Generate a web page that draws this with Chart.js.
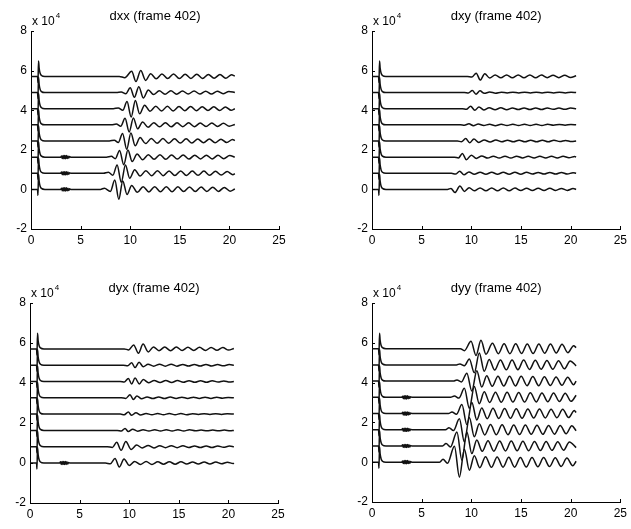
<!DOCTYPE html>
<html>
<head>
<meta charset="utf-8">
<script src="https://cdn.jsdelivr.net/npm/chart.js@4.4.1/dist/chart.umd.min.js"></script>
<style>
  body { margin: 0; background: #fff; }
  .panel { position: absolute; }
</style>
</head>
<body>
<div class="panel" style="left:0px;top:0px"><canvas id="c0" width="315" height="262"></canvas></div>
<div class="panel" style="left:315px;top:0px"><canvas id="c1" width="316" height="262"></canvas></div>
<div class="panel" style="left:0px;top:262px"><canvas id="c2" width="315" height="267"></canvas></div>
<div class="panel" style="left:315px;top:262px"><canvas id="c3" width="316" height="267"></canvas></div>
<script>
// values are in units of 1e4, traces listed bottom to top
const titles = ['dxx (frame 402)', 'dxy (frame 402)', 'dyx (frame 402)', 'dyy (frame 402)'];
const xTickValues = [0, 5, 10, 15, 20, 25];
const yTickValues = [-2, 0, 2, 4, 6, 8];
const baselines = [0, 0.815, 1.63, 2.445, 3.26, 4.075, 4.89, 5.705];

// first arrival spike, same on every trace (relative to baseline)
const spikePts = [[0,0],[0.66,0],[0.7,-0.3],[0.76,0.78],[0.82,0.42],[0.92,0.16],[1.05,0.05],[1.4,0]];
// small noisy burst near x=3.5 on the lower traces
const blobPts = [[3.0,0],[3.08,0.06],[3.16,-0.07],[3.24,0.08],[3.32,-0.08],[3.4,0.08],[3.48,-0.08],[3.56,0.08],[3.64,-0.07],[3.72,0.06],[3.8,-0.05],[3.9,0.03],[4.0,0]];

const dxxBlob = [0, 1, 2];
const dxyBlob = [];
const dyxBlob = [0];
const dyyBlob = [0, 1, 2, 3, 4];

const dxxTraces = [
  [[7.0,0],[7.4,0.06],[8.0,-0.1],[8.45,0.47],[8.85,-0.5],[9.25,0.43],[9.68,-0.26],[10.15,0.2],[10.72,-0.15],[11.3,0.14],[11.88,-0.13],[12.47,0.14],[13.05,-0.12],[13.64,0.13],[14.22,-0.12],[14.81,0.13],[15.39,-0.11],[15.98,0.12],[16.56,-0.11],[17.15,0.12],[17.73,-0.1],[18.32,0.11],[18.9,-0.1],[19.49,0.1],[20.07,-0.09],[20.55,0.02]],
  [[7.3,0],[7.8,0.05],[8.25,-0.1],[8.68,0.42],[9.1,-0.45],[9.52,0.42],[9.95,-0.25],[10.45,0.18],[11.0,-0.14],[11.58,0.13],[12.16,-0.12],[12.75,0.13],[13.33,-0.12],[13.92,0.12],[14.5,-0.11],[15.09,0.12],[15.67,-0.11],[16.26,0.11],[16.84,-0.1],[17.43,0.11],[18.01,-0.1],[18.6,0.1],[19.18,-0.09],[19.77,0.09],[20.35,-0.07],[20.55,-0.02]],
  [[7.6,0],[8.1,0.04],[8.5,-0.08],[8.93,0.34],[9.35,-0.38],[9.77,0.36],[10.2,-0.22],[10.7,0.16],[11.25,-0.13],[11.83,0.12],[12.41,-0.11],[13.0,0.12],[13.58,-0.11],[14.17,0.11],[14.75,-0.1],[15.34,0.11],[15.92,-0.1],[16.51,0.1],[17.09,-0.09],[17.68,0.1],[18.26,-0.09],[18.85,0.09],[19.43,-0.08],[20.02,0.08],[20.55,0]],
  [[7.9,0],[8.4,0.04],[8.8,-0.08],[9.23,0.38],[9.65,-0.42],[10.07,0.4],[10.5,-0.24],[11.0,0.17],[11.55,-0.13],[12.13,0.12],[12.71,-0.11],[13.3,0.12],[13.88,-0.11],[14.47,0.11],[15.05,-0.1],[15.64,0.11],[16.22,-0.1],[16.81,0.1],[17.39,-0.09],[17.98,0.1],[18.56,-0.09],[19.15,0.09],[19.73,-0.08],[20.32,0.08],[20.55,0.02]],
  [[8.1,0],[8.6,0.04],[9.05,-0.07],[9.48,0.33],[9.9,-0.36],[10.32,0.35],[10.75,-0.2],[11.25,0.15],[11.8,-0.12],[12.38,0.11],[12.96,-0.1],[13.55,0.11],[14.13,-0.1],[14.72,0.1],[15.3,-0.09],[15.89,0.1],[16.47,-0.09],[17.06,0.09],[17.64,-0.08],[18.23,0.09],[18.81,-0.08],[19.4,0.08],[19.98,-0.07],[20.55,0.02]],
  [[8.3,0],[8.8,0.04],[9.25,-0.08],[9.68,0.36],[10.1,-0.42],[10.52,0.42],[10.95,-0.26],[11.45,0.18],[12.0,-0.13],[12.58,0.12],[13.16,-0.11],[13.75,0.12],[14.33,-0.11],[14.92,0.11],[15.5,-0.1],[16.09,0.11],[16.67,-0.1],[17.26,0.1],[17.84,-0.09],[18.43,0.1],[19.01,-0.09],[19.6,0.09],[20.18,-0.08],[20.55,0]],
  [[8.6,0],[9.1,0.03],[9.55,-0.06],[10.0,0.24],[10.42,-0.24],[10.87,0.3],[11.32,-0.27],[11.83,0.13],[12.35,-0.1],[12.93,0.09],[13.51,-0.08],[14.1,0.09],[14.68,-0.08],[15.27,0.08],[15.85,-0.07],[16.44,0.08],[17.02,-0.07],[17.61,0.07],[18.19,-0.07],[18.78,0.07],[19.36,-0.06],[19.95,0.06],[20.55,0]],
  [[8.9,0],[9.46,-0.06],[10.15,0.26],[10.58,-0.26],[11.06,0.3],[11.56,-0.2],[12.06,0.14],[12.62,-0.12],[13.2,0.12],[13.78,-0.11],[14.37,0.12],[14.95,-0.11],[15.54,0.11],[16.12,-0.1],[16.71,0.11],[17.29,-0.1],[17.88,0.1],[18.46,-0.09],[19.05,0.1],[19.63,-0.09],[20.22,0.08],[20.55,0.02]]
];

const dxyTraces = [
  [[7.6,0],[7.95,0.05],[8.35,-0.16],[8.85,0.17],[9.3,-0.1],[9.78,0.08],[10.3,-0.07],[10.88,0.07],[11.47,-0.07],[12.05,0.07],[12.64,-0.07],[13.22,0.07],[13.81,-0.07],[14.39,0.07],[14.98,-0.06],[15.56,0.06],[16.15,-0.06],[16.73,0.06],[17.32,-0.06],[17.9,0.06],[18.49,-0.05],[19.07,0.05],[19.66,-0.05],[20.24,0.04],[20.55,0]],
  [[8.0,0],[8.4,-0.04],[8.83,0.1],[9.26,-0.08],[9.76,0.07],[10.3,-0.05],[10.88,0.05],[11.47,-0.05],[12.05,0.05],[12.64,-0.05],[13.22,0.05],[13.81,-0.05],[14.39,0.05],[14.98,-0.05],[15.56,0.05],[16.15,-0.04],[16.73,0.04],[17.32,-0.04],[17.9,0.04],[18.49,-0.04],[19.07,0.04],[19.66,-0.04],[20.24,0.03],[20.55,0]],
  [[8.3,0],[8.7,-0.04],[9.1,0.18],[9.5,-0.13],[10.0,0.1],[10.5,-0.07],[11.05,0.06],[11.64,-0.05],[12.22,0.05],[12.81,-0.05],[13.39,0.05],[13.98,-0.05],[14.56,0.05],[15.15,-0.04],[15.73,0.04],[16.32,-0.04],[16.9,0.04],[17.49,-0.04],[18.07,0.04],[18.66,-0.04],[19.24,0.04],[19.83,-0.03],[20.41,0.03],[20.55,0]],
  [[8.6,0],[9.0,-0.04],[9.43,0.12],[9.83,-0.09],[10.26,0.1],[10.75,-0.07],[11.3,0.05],[11.89,-0.05],[12.47,0.05],[13.06,-0.04],[13.64,0.04],[14.23,-0.04],[14.81,0.04],[15.4,-0.04],[15.98,0.04],[16.57,-0.04],[17.15,0.04],[17.74,-0.04],[18.32,0.04],[18.91,-0.03],[19.49,0.03],[20.08,-0.03],[20.55,0]],
  [[8.9,0],[9.3,-0.02],[9.76,0.05],[10.2,-0.04],[10.7,0.04],[11.25,-0.03],[11.84,0.03],[12.42,-0.04],[13.01,0.03],[13.59,-0.03],[14.18,0.03],[14.76,-0.03],[15.35,0.03],[15.93,-0.03],[16.52,0.03],[17.1,-0.03],[17.69,0.03],[18.27,-0.02],[18.86,0.02],[19.44,-0.02],[20.03,0.02],[20.55,0]],
  [[9.1,0],[9.5,-0.03],[9.93,0.13],[10.35,-0.08],[10.77,0.09],[11.25,-0.06],[11.8,0.05],[12.39,-0.05],[12.97,0.05],[13.56,-0.05],[14.14,0.04],[14.73,-0.04],[15.31,0.04],[15.9,-0.04],[16.48,0.04],[17.07,-0.04],[17.65,0.04],[18.24,-0.03],[18.82,0.03],[19.41,-0.03],[19.99,0.03],[20.55,0]],
  [[9.3,0],[9.7,-0.02],[10.1,0.1],[10.47,-0.08],[10.87,0.09],[11.3,-0.04],[11.85,0.03],[12.44,-0.03],[13.02,0.02],[13.61,-0.02],[14.19,0.02],[14.78,-0.02],[15.36,0.02],[15.95,-0.02],[16.53,0.02],[17.12,-0.02],[17.7,0.02],[18.29,-0.02],[18.87,0.02],[19.46,-0.02],[20.04,0.02],[20.55,0]],
  [[9.6,0],[10.05,-0.03],[10.49,0.16],[10.9,-0.18],[11.35,0.14],[11.85,-0.08],[12.4,0.07],[12.97,-0.07],[13.55,0.07],[14.13,-0.07],[14.72,0.07],[15.3,-0.07],[15.89,0.07],[16.47,-0.07],[17.06,0.07],[17.64,-0.06],[18.23,0.06],[18.81,-0.06],[19.4,0.06],[19.98,-0.05],[20.55,0.03]]
];

const dyxTraces = [
  [[7.6,0],[8.1,-0.04],[8.57,0.22],[9.0,-0.2],[9.48,0.2],[10.0,-0.12],[10.55,0.08],[11.12,-0.07],[11.71,0.07],[12.29,-0.07],[12.88,0.06],[13.46,-0.06],[14.05,0.06],[14.63,-0.06],[15.22,0.06],[15.8,-0.05],[16.39,0.05],[16.97,-0.05],[17.56,0.05],[18.14,-0.05],[18.73,0.05],[19.31,-0.04],[19.9,0.04],[20.48,-0.03],[20.55,0]],
  [[7.8,0],[8.3,-0.04],[8.74,0.22],[9.18,-0.18],[9.66,0.26],[10.2,-0.14],[10.75,0.08],[11.32,-0.06],[11.91,0.06],[12.49,-0.06],[13.08,0.05],[13.66,-0.05],[14.25,0.05],[14.83,-0.05],[15.42,0.05],[16.0,-0.04],[16.59,0.04],[17.17,-0.04],[17.76,0.04],[18.34,-0.04],[18.93,0.04],[19.51,-0.03],[20.1,0.03],[20.55,0]],
  [[8.8,0],[9.2,-0.03],[9.58,0.1],[9.91,-0.06],[10.35,0.06],[10.85,-0.04],[11.4,0.03],[11.99,-0.03],[12.57,0.03],[13.16,-0.03],[13.74,0.03],[14.33,-0.03],[14.91,0.03],[15.5,-0.03],[16.08,0.03],[16.67,-0.02],[17.25,0.02],[17.84,-0.02],[18.42,0.02],[19.01,-0.02],[19.59,0.02],[20.18,-0.02],[20.55,0]],
  [[9.1,0],[9.5,-0.03],[9.91,0.1],[10.25,-0.06],[10.68,0.07],[11.15,-0.04],[11.7,0.03],[12.29,-0.03],[12.87,0.03],[13.46,-0.03],[14.04,0.03],[14.63,-0.03],[15.21,0.03],[15.8,-0.03],[16.38,0.02],[16.97,-0.02],[17.55,0.02],[18.14,-0.02],[18.72,0.02],[19.31,-0.02],[19.89,0.02],[20.55,0]],
  [[9.2,0],[9.65,-0.03],[10.08,0.15],[10.42,-0.08],[10.78,0.09],[11.25,-0.05],[11.8,0.04],[12.39,-0.04],[12.97,0.04],[13.56,-0.04],[14.14,0.04],[14.73,-0.03],[15.31,0.03],[15.9,-0.03],[16.48,0.03],[17.07,-0.03],[17.65,0.03],[18.24,-0.03],[18.82,0.03],[19.41,-0.02],[19.99,0.02],[20.55,0]],
  [[9.1,0],[9.5,-0.03],[9.91,0.15],[10.25,-0.12],[10.59,0.17],[11.02,-0.12],[11.42,0.1],[11.95,-0.06],[12.52,0.05],[13.11,-0.05],[13.69,0.05],[14.28,-0.05],[14.86,0.05],[15.45,-0.04],[16.03,0.04],[16.62,-0.04],[17.2,0.04],[17.79,-0.04],[18.37,0.04],[18.96,-0.03],[19.54,0.03],[20.13,-0.03],[20.55,0]],
  [[9.4,0],[9.85,-0.03],[10.25,0.12],[10.59,-0.12],[11.0,0.15],[11.42,-0.08],[11.9,0.05],[12.47,-0.05],[13.06,0.05],[13.64,-0.05],[14.23,0.05],[14.81,-0.05],[15.4,0.04],[15.98,-0.04],[16.57,0.04],[17.15,-0.04],[17.74,0.04],[18.32,-0.04],[18.91,0.03],[19.49,-0.03],[20.08,0.03],[20.55,0]],
  [[9.5,0],[9.95,-0.05],[10.45,0.2],[10.93,-0.22],[11.4,0.24],[11.92,-0.15],[12.45,0.1],[13.0,-0.09],[13.58,0.09],[14.17,-0.09],[14.75,0.09],[15.34,-0.08],[15.92,0.08],[16.51,-0.08],[17.09,0.08],[17.68,-0.08],[18.26,0.07],[18.85,-0.07],[19.43,0.07],[20.02,-0.06],[20.55,0.02]]
];

const dyyTraces = [
  [[6.8,0],[7.15,0.15],[7.6,-0.05],[8.3,0.8],[8.8,-0.75],[9.3,0.65],[9.8,-0.4],[10.3,0.32],[10.85,-0.28],[11.43,0.27],[12.02,-0.26],[12.6,0.26],[13.19,-0.25],[13.77,0.25],[14.36,-0.25],[14.94,0.24],[15.53,-0.24],[16.11,0.24],[16.7,-0.23],[17.28,0.23],[17.87,-0.22],[18.45,0.22],[19.04,-0.21],[19.62,0.21],[20.21,-0.18],[20.55,0.05]],
  [[7.1,0],[7.45,0.12],[7.9,-0.05],[8.55,0.7],[9.05,-0.72],[9.55,0.7],[10.05,-0.38],[10.55,0.3],[11.1,-0.27],[11.68,0.26],[12.27,-0.26],[12.85,0.25],[13.44,-0.25],[14.02,0.25],[14.61,-0.24],[15.19,0.24],[15.78,-0.24],[16.36,0.23],[16.95,-0.23],[17.53,0.22],[18.12,-0.22],[18.7,0.21],[19.29,-0.21],[19.87,0.2],[20.55,-0.08]],
  [[7.4,0],[7.75,0.1],[8.2,-0.04],[8.8,0.55],[9.3,-0.62],[9.8,0.62],[10.3,-0.35],[10.8,0.3],[11.35,-0.26],[11.93,0.26],[12.52,-0.25],[13.1,0.25],[13.69,-0.25],[14.27,0.24],[14.86,-0.24],[15.44,0.24],[16.03,-0.23],[16.61,0.23],[17.2,-0.23],[17.78,0.22],[18.37,-0.22],[18.95,0.21],[19.54,-0.2],[20.12,0.2],[20.55,-0.05]],
  [[7.7,0],[8.05,0.08],[8.5,-0.04],[9.05,0.45],[9.55,-0.55],[10.05,0.55],[10.55,-0.32],[11.05,0.28],[11.6,-0.26],[12.18,0.26],[12.77,-0.25],[13.35,0.25],[13.94,-0.24],[14.52,0.24],[15.11,-0.24],[15.69,0.23],[16.28,-0.23],[16.86,0.23],[17.45,-0.22],[18.03,0.22],[18.62,-0.21],[19.2,0.21],[19.79,-0.2],[20.37,0.15],[20.55,0.05]],
  [[7.9,0],[8.3,0.07],[8.75,-0.04],[9.3,0.45],[9.8,-0.55],[10.3,0.55],[10.8,-0.32],[11.3,0.28],[11.85,-0.26],[12.43,0.26],[13.02,-0.25],[13.6,0.25],[14.19,-0.24],[14.77,0.24],[15.36,-0.24],[15.94,0.23],[16.53,-0.23],[17.11,0.22],[17.7,-0.22],[18.28,0.22],[18.87,-0.21],[19.45,0.21],[20.04,-0.2],[20.55,0.1]],
  [[8.2,0],[8.55,0.06],[9.0,-0.04],[9.55,0.4],[10.05,-0.5],[10.55,0.52],[11.05,-0.3],[11.55,0.27],[12.1,-0.26],[12.68,0.25],[13.27,-0.25],[13.85,0.25],[14.44,-0.24],[15.02,0.24],[15.61,-0.23],[16.19,0.23],[16.78,-0.23],[17.36,0.22],[17.95,-0.22],[18.53,0.21],[19.12,-0.21],[19.7,0.2],[20.29,-0.18],[20.55,0]],
  [[8.5,0],[8.85,0.05],[9.3,-0.04],[9.8,0.3],[10.3,-0.4],[10.8,0.6],[11.3,-0.32],[11.8,0.27],[12.35,-0.26],[12.93,0.25],[13.52,-0.25],[14.1,0.24],[14.69,-0.24],[15.27,0.24],[15.86,-0.23],[16.44,0.23],[17.03,-0.22],[17.61,0.22],[18.2,-0.22],[18.78,0.21],[19.37,-0.2],[19.95,0.2],[20.55,-0.05]],
  [[8.9,0],[9.3,-0.1],[9.97,0.37],[10.47,-0.34],[10.97,0.42],[11.47,-0.28],[12.13,0.27],[12.72,-0.25],[13.3,0.25],[13.88,-0.25],[14.47,0.25],[15.05,-0.24],[15.63,0.24],[16.22,-0.24],[16.8,0.24],[17.38,-0.23],[17.97,0.23],[18.55,-0.22],[19.13,0.22],[19.72,-0.2],[20.3,0.15],[20.55,0.05]]
];

const FONT = '"Liberation Sans", Arial, Helvetica, sans-serif';

// builds one dataset per trace, shifted up to its baseline
const BuildDatasets = function (traces, blobList) {
    return traces.map((trace, k) => {
        let pts = spikePts.slice();
        if (blobList.indexOf(k) > -1) pts = pts.concat(blobPts);
        pts = pts.concat(trace);
        return {
            data: pts.map(p => ({ x: p[0], y: p[1] + baselines[k] })),
            borderColor: '#111',
            borderWidth: 1.5,
            pointRadius: 0,
            fill: false,
            cubicInterpolationMode: 'monotone'
        };
    });
};

// matlab-ish decorations: inward ticks, title, exponent label
const decorPlugin = {
    id: 'decor',
    afterDraw(chart, args, opts) {
        const ctx = chart.ctx;
        const area = chart.chartArea;
        const xs = chart.scales.x, ys = chart.scales.y;
        ctx.save();
        ctx.strokeStyle = '#000';
        ctx.lineWidth = 1;
        ctx.beginPath();
        for (const v of yTickValues) {
            const py = Math.round(ys.getPixelForValue(v)) + 0.5;
            ctx.moveTo(area.left, py);
            ctx.lineTo(area.left + 3, py);
        }
        for (const v of xTickValues) {
            const px = Math.round(xs.getPixelForValue(v)) + 0.5;
            ctx.moveTo(px, area.bottom);
            ctx.lineTo(px, area.bottom - 3);
        }
        ctx.stroke();

        ctx.fillStyle = '#000';
        ctx.font = '13px ' + FONT;
        ctx.textAlign = 'center';
        ctx.textBaseline = 'middle';
        ctx.fillText(opts.title, (area.left + area.right) / 2, area.top - 15);

        ctx.textAlign = 'left';
        ctx.textBaseline = 'alphabetic';
        ctx.font = '12px ' + FONT;
        const base = 'x 10';
        ctx.fillText(base, area.left + 1, area.top - 6);
        const w = ctx.measureText(base).width;
        ctx.font = '8px ' + FONT;
        ctx.fillText('4', area.left + 2 + w, area.top - 13);
        ctx.restore();
    }
};

function AddTraceChart(canvasId, title, traces, blobList, pad) {
    const tickFont = { family: FONT, size: 12 };
    return new Chart(document.getElementById(canvasId), {
        type: 'line',
        data: { datasets: BuildDatasets(traces, blobList) },
        options: {
            responsive: false,
            animation: false,
            events: [],
            layout: { padding: pad },
            plugins: {
                legend: { display: false },
                tooltip: { enabled: false },
                decor: { title: title }
            },
            scales: {
                x: {
                    type: 'linear',
                    min: 0,
                    max: 25,
                    afterBuildTicks: s => { s.ticks = xTickValues.map(v => ({ value: v })); },
                    afterFit: s => { s.height = 22; },
                    ticks: { color: '#000', font: tickFont, padding: 4, maxRotation: 0 },
                    grid: { display: false, drawTicks: false },
                    border: { display: true, color: '#000', width: 1 }
                },
                y: {
                    type: 'linear',
                    min: -2,
                    max: 8,
                    afterBuildTicks: s => { s.ticks = yTickValues.map(v => ({ value: v })); },
                    afterFit: s => { s.width = 26; },
                    ticks: { color: '#000', font: tickFont, padding: 4 },
                    grid: { display: false, drawTicks: false },
                    border: { display: true, color: '#000', width: 1 }
                }
            }
        },
        plugins: [decorPlugin]
    });
}

AddTraceChart('c0', titles[0], dxxTraces, dxxBlob, { left: 5, right: 36, top: 31, bottom: 11 });
AddTraceChart('c1', titles[1], dxyTraces, dxyBlob, { left: 31, right: 8, top: 31, bottom: 11 });
AddTraceChart('c2', titles[2], dyxTraces, dyxBlob, { left: 4, right: 37, top: 41, bottom: 4 });
AddTraceChart('c3', titles[3], dyyTraces, dyyBlob, { left: 31, right: 9, top: 41, bottom: 5 });
</script>
</body>
</html>
